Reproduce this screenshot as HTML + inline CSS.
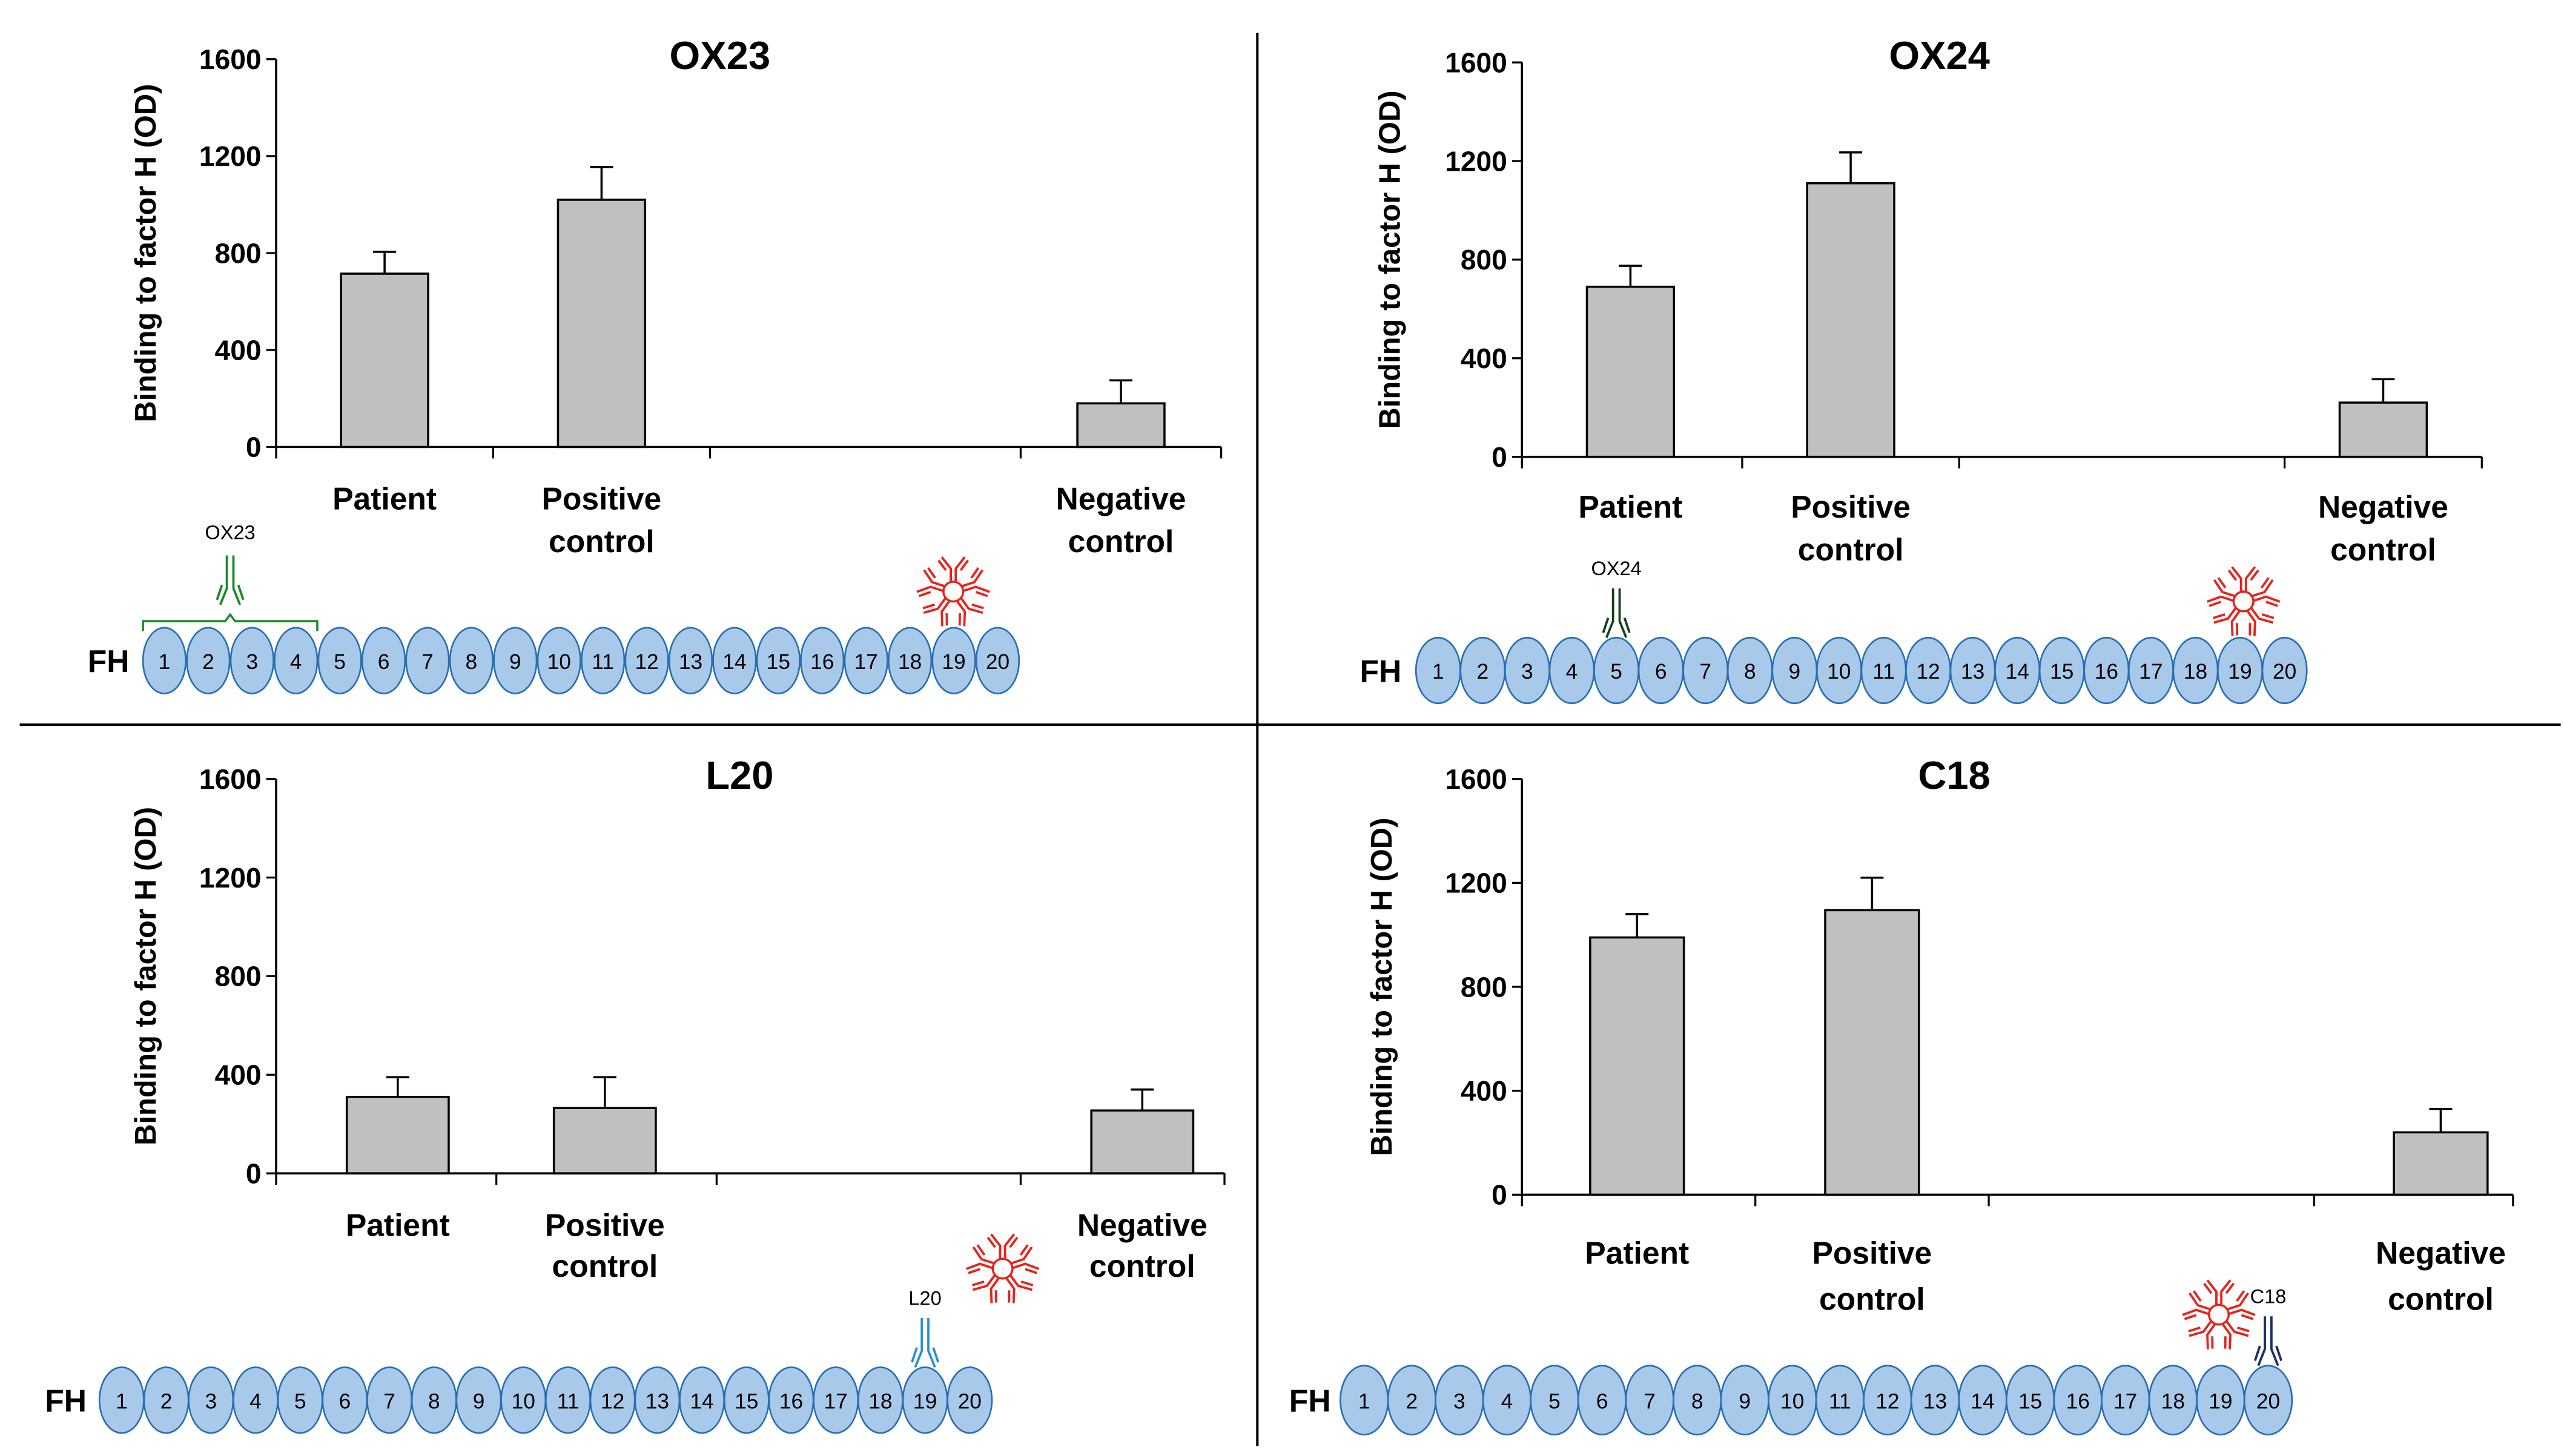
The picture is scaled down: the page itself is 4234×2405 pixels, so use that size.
<!DOCTYPE html>
<html><head><meta charset="utf-8"><style>
html,body{margin:0;padding:0;background:#fff;}
svg{display:block;}
text{font-family:"Liberation Sans",Arial,sans-serif;}
</style></head><body>
<svg id="chart" xmlns="http://www.w3.org/2000/svg" width="4234" height="2405" viewBox="0 0 1560 886" preserveAspectRatio="none">
<rect x="0" y="0" width="1560" height="886" fill="#fff"/>
<line x1="765" y1="20" x2="765" y2="880" stroke="#000" stroke-width="1.5"/>
<line x1="12" y1="441" x2="1558" y2="441" stroke="#000" stroke-width="1.5"/>
</svg>
<script>
const categories = ["Patient", "Positive control", "Negative control"];
const yTicks = [0, 400, 800, 1200, 1600];
const titles = ["OX23", "OX24", "L20", "C18"];
const valuesOX23 = [715, 1020, 180];
const errorsOX23 = [805, 1155, 275];
const valuesOX24 = [690, 1110, 220];
const errorsOX24 = [775, 1235, 315];
const valuesL20 = [310, 265, 255];
const errorsL20 = [390, 390, 340];
const valuesC18 = [990, 1095, 240];
const errorsC18 = [1080, 1220, 330];
const antibodyDomain = [2.5, 5, 19, 20];

const NS = "http://www.w3.org/2000/svg";
const svg = document.getElementById("chart");
function mk(tag, attrs, parent) {
  const e = document.createElementNS(NS, tag);
  for (const k in attrs) e.setAttribute(k, attrs[k]);
  (parent || svg).appendChild(e);
  return e;
}
const layouts = [
  {ax:168, yTop:36, yBot:272, xEnd:743, cat:[168,300,432,621,743], barW:53, barC:[234,366,682], tx:438, ty:33, ytx:90, lblY:303, lblH:26, fhX:66, fhY:402, e0:100, e1:607, rx:13, ry:20, abColor:"#1a8a2a", redX:580, redY:360, vals:valuesOX23, errs:errorsOX23, brace:true},
  {ax:926, yTop:38, yBot:278, xEnd:1510, cat:[926,1060,1192,1390,1510], barW:53, barC:[992,1126,1450], tx:1180, ty:33, ytx:847, lblY:308, lblH:26, fhX:840, fhY:408, e0:875, e1:1390, rx:13.5, ry:20, abColor:"#14401e", redX:1365, redY:366, vals:valuesOX24, errs:errorsOX24},
  {ax:168, yTop:474, yBot:714, xEnd:745, cat:[168,302,436,621,745], barW:62, barC:[242,368,695], tx:450, ty:471, ytx:90, lblY:745, lblH:25, fhX:40, fhY:852, e0:74, e1:590, rx:13.5, ry:20, abColor:"#2a8fd0", redX:610, redY:772, vals:valuesL20, errs:errorsL20},
  {ax:926, yTop:474, yBot:727, xEnd:1529, cat:[926,1068,1210,1408,1529], barW:57, barC:[996,1139,1485], tx:1189, ty:471, ytx:842, lblY:762, lblH:28, fhX:797, fhY:852, e0:830, e1:1380, rx:14.5, ry:21, abColor:"#1a2d6b", redX:1350, redY:800, vals:valuesC18, errs:errorsC18}
];

function redPentamer(cx, cy, g) {
  for (let i = 0; i < 5; i++) {
    const a = -90 + i * 72;
    const sub = mk("g", {transform:`translate(${cx},${cy}) rotate(${a+90})`, stroke:"#e8221a", "stroke-width":"1.4", fill:"none"}, g);
    mk("path", {d:"M-1.5,-6 L-1.5,-14 L-7,-21 M1.5,-6 L1.5,-14 L7,-21 M-4.5,-13 L-9,-19 M4.5,-13 L9,-19"}, sub);
  }
  mk("circle", {cx:cx, cy:cy, r:6, stroke:"#e8221a", "stroke-width":"1.3", fill:"none"}, g);
}
function antibody(x, yBottom, color, g) {
  mk("path", {d:`M${x-2},${yBottom-30} L${x-2},${yBottom-10} L${x-6},${yBottom} M${x+2},${yBottom-30} L${x+2},${yBottom-10} L${x+6},${yBottom} M${x-5},${yBottom-12} L${x-8},${yBottom-3} M${x+5},${yBottom-12} L${x+8},${yBottom-3}`, stroke:color, "stroke-width":"1.4", fill:"none"}, g);
}

layouts.forEach((L, p) => {
  const g = mk("g", {});
  
  
  const y = v => L.yBot - (v / 1600) * (L.yBot - L.yTop);
  // title
  const t = mk("text", {x:L.tx, y:L.ty + 9, "text-anchor":"middle", "font-size":"24", "font-weight":"bold"}, g);
  t.textContent = titles[p];
  
  
  // y title
  const yc = (L.yTop + L.yBot) / 2;
  const yt = mk("text", {x:L.ytx, y:yc, transform:`rotate(-90 ${L.ytx} ${yc})`, "text-anchor":"middle", "dominant-baseline":"middle", "font-size":"18", "font-weight":"bold"}, g);
  yt.textContent = "Binding to factor H (OD)";
  
  
  // axes
  const ya = mk("line", {x1:L.ax, y1:L.yTop, x2:L.ax, y2:L.yBot, stroke:"#000", "stroke-width":"1.3"}, g);
  
  
  const xa = mk("line", {x1:L.ax, y1:L.yBot, x2:L.xEnd, y2:L.yBot, stroke:"#000", "stroke-width":"1.3"}, g);
  
  
  yTicks.forEach(v => {
    mk("line", {x1:L.ax - 6, y1:y(v), x2:L.ax, y2:y(v), stroke:"#000", "stroke-width":"1.2"}, g);
    const tl = mk("text", {x:L.ax - 9, y:y(v) + 6, "text-anchor":"end", "font-size":"17", "font-weight":"bold"}, g);
    tl.textContent = v;
    
    
  });
  L.cat.forEach(cx => mk("line", {x1:cx, y1:L.yBot, x2:cx, y2:L.yBot + 7, stroke:"#000", "stroke-width":"1.2"}, g));
  // bars
  categories.forEach((c, i) => {
    const cx = L.barC[i];
    const eb = mk("path", {d:`M${cx},${y(L.vals[i])} L${cx},${y(L.errs[i])} M${cx-7},${y(L.errs[i])} L${cx+7},${y(L.errs[i])}`, stroke:"#000", "stroke-width":"1.3", fill:"none"}, g);
    
    
    const b = mk("rect", {x:cx - L.barW/2, y:y(L.vals[i]), width:L.barW, height:L.yBot - y(L.vals[i]), fill:"#c0c0c0", stroke:"#000", "stroke-width":"1.3"}, g);
    
    
    const words = c.split(" ");
    words.forEach((w, k) => {
      const tl = mk("text", {x:cx, y:L.lblY + 7 + k * L.lblH, "text-anchor":"middle", "font-size":"19", "font-weight":"bold"}, g);
      tl.textContent = w;
      
      
    });
  });
  // FH domains
  const fh = mk("text", {x:L.fhX, y:L.fhY + 7, "text-anchor":"middle", "font-size":"19", "font-weight":"bold"}, g);
  fh.textContent = "FH";
  
  
  const step = (L.e1 - L.e0) / 19;
  for (let d = 1; d <= 20; d++) {
    const ex = L.e0 + (d - 1) * step;
    const el = mk("ellipse", {cx:ex, cy:L.fhY, rx:L.rx, ry:L.ry, fill:"#a9c9ea", stroke:"#2a6fb0", "stroke-width":"1"}, g);
    
    
    const n = mk("text", {x:ex, y:L.fhY + 5, "text-anchor":"middle", "font-size":"13"}, g);
    n.textContent = d;
  }
  const abX = L.e0 + (antibodyDomain[p] - 1) * step;
  if (L.brace) {
    const bx0 = L.e0 - 13, bx1 = L.e0 + 3 * step + 13, by = L.fhY - 24;
    mk("path", {d:`M${bx0},${by+6} L${bx0},${by} L${abX-3},${by} L${abX},${by-4} L${abX+3},${by} L${bx1},${by} L${bx1},${by+6}`, stroke:L.abColor, "stroke-width":"1.3", fill:"none"}, g);
    antibody(abX, by - 10, L.abColor, g);
    const al = mk("text", {x:abX, y:328, "text-anchor":"middle", "font-size":"12"}, g);
    al.textContent = titles[p];
  } else {
    antibody(abX, L.fhY - L.ry, L.abColor, g);
    const al = mk("text", {x:abX, y:L.fhY - L.ry - 38, "text-anchor":"middle", "font-size":"12"}, g);
    al.textContent = titles[p];
  }
  const rg = mk("g", {}, g);
  
  
  redPentamer(L.redX, L.redY, rg);
});
</script>
</body></html>
